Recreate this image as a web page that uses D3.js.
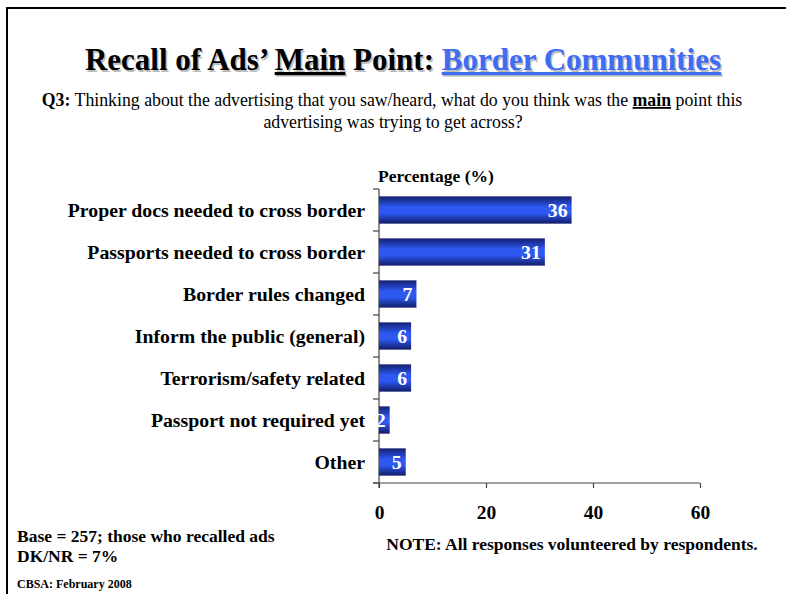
<!DOCTYPE html>
<html><head><meta charset="utf-8">
<script src="https://cdn.jsdelivr.net/npm/d3@7"></script>
<style>
body{margin:0;background:#fff;}
svg{display:block;font-family:"Liberation Serif","Times New Roman",serif;}
</style></head>
<body>
<svg id="chart" width="786" height="594"></svg>
<script>
const categories = [
  "Proper docs needed to cross border",
  "Passports needed to cross border",
  "Border rules changed",
  "Inform the public (general)",
  "Terrorism/safety related",
  "Passport not required yet",
  "Other"
];
const values = [36, 31, 7, 6, 6, 2, 5];
const xTicks = [0, 20, 40, 60];

const svg = d3.select("#chart");

// gradient for the bars: dark edges, bright centre
const defs = svg.append("defs");
const grad = defs.append("linearGradient").attr("id", "barGrad")
  .attr("x1", 0).attr("y1", 0).attr("x2", 0).attr("y2", 1);
grad.append("stop").attr("offset", "0%").attr("stop-color", "#14206e");
grad.append("stop").attr("offset", "40%").attr("stop-color", "#2d58f2");
grad.append("stop").attr("offset", "62%").attr("stop-color", "#2d58f2");
grad.append("stop").attr("offset", "100%").attr("stop-color", "#121c66");

// slide frame
svg.append("path").attr("d", "M7,594 V8 H786").attr("fill", "none")
  .attr("stroke", "#000").attr("stroke-width", 2);

// title with soft shadow
const title = (dx, dy, shadow) => {
  const t = svg.append("text").attr("x", 403 + dx).attr("y", 70 + dy)
    .attr("text-anchor", "middle").attr("font-size", 31).attr("font-weight", "bold");
  t.append("tspan").text("Recall of Ads’ ").attr("fill", shadow ? "#bbb" : "#000");
  t.append("tspan").text("Main").attr("fill", shadow ? "#bbb" : "#000")
    .attr("text-decoration", "underline");
  t.append("tspan").text(" Point: ").attr("fill", shadow ? "#bbb" : "#000");
  t.append("tspan").text("Border Communities").attr("fill", shadow ? "#bbb" : "#3e6cf5")
    .attr("text-decoration", "underline");
};
title(1.5, 1.5, true);
title(0, 0, false);

// question
const q1 = svg.append("text").attr("x", 392).attr("y", 106).attr("text-anchor", "middle")
  .attr("font-size", 17.8);
q1.append("tspan").text("Q3:").attr("font-weight", "bold");
q1.append("tspan").text(" Thinking about the advertising that you saw/heard, what do you think was the ");
q1.append("tspan").text("main").attr("font-weight", "bold").attr("text-decoration", "underline");
q1.append("tspan").text(" point this");
svg.append("text").attr("x", 393).attr("y", 128).attr("text-anchor", "middle")
  .attr("font-size", 17.8).text("advertising was trying to get across?");

// chart area
const x0 = 379, x1 = 700, yTop = 189, yBot = 483;
const x = d3.scaleLinear().domain([0, 60]).range([x0, x1]);
const y = d3.scaleBand().domain(categories).range([yTop, yBot]).paddingInner(0.35).paddingOuter(0.175);
const yTicks = d3.scaleBand().domain(categories).range([yTop, yBot]);

svg.append("text").attr("x", 378).attr("y", 182).attr("font-size", 17.5)
  .attr("font-weight", "bold").text("Percentage (%)");

// category axis: line plus boundary ticks
svg.append("line").attr("x1", x0).attr("x2", x0).attr("y1", yTop).attr("y2", yBot + 5)
  .attr("stroke", "#444").attr("stroke-width", 1.2);
const bounds = categories.map(c => yTicks(c)).concat([yBot]);
svg.selectAll("line.ytick").data(bounds).join("line").attr("class", "ytick")
  .attr("x1", x0 - 6).attr("x2", x0).attr("y1", d => d).attr("y2", d => d)
  .attr("stroke", "#444").attr("stroke-width", 1.2);

svg.selectAll("text.cat").data(categories).join("text").attr("class", "cat")
  .attr("x", 365).attr("y", d => y(d) + y.bandwidth() / 2 + 7)
  .attr("text-anchor", "end").attr("font-size", 19.8).attr("font-weight", "bold")
  .text(d => d);

// bars
svg.selectAll("rect.bar").data(values).join("rect").attr("class", "bar")
  .attr("x", x(0)).attr("y", (d, i) => y(categories[i]))
  .attr("width", d => x(d) - x(0)).attr("height", y.bandwidth())
  .attr("fill", "url(#barGrad)");

svg.selectAll("text.val").data(values).join("text").attr("class", "val")
  .attr("x", d => x(d) - 4).attr("y", (d, i) => y(categories[i]) + y.bandwidth() / 2 + 7)
  .attr("text-anchor", "end").attr("font-size", 19.8).attr("font-weight", "bold")
  .attr("fill", "#fff").text(d => d);

// value axis
const xAxis = d3.axisBottom(x).tickValues(xTicks).tickSize(5).tickSizeOuter(0).tickPadding(17);
const gx = svg.append("g").attr("transform", `translate(0,${yBot})`).call(xAxis);
gx.select(".domain").attr("d", `M${x0 - 6},0H${x1}`).attr("stroke", "#444").attr("stroke-width", 1.2);
gx.selectAll(".tick line").attr("stroke", "#444").attr("stroke-width", 1.2);
gx.selectAll(".tick text").attr("font-family", "Liberation Serif, serif")
  .attr("font-size", 19.5).attr("font-weight", "bold").attr("fill", "#000");

// footnotes
svg.append("text").attr("x", 17).attr("y", 542).attr("font-size", 17.5).attr("font-weight", "bold")
  .text("Base = 257; those who recalled ads");
svg.append("text").attr("x", 17).attr("y", 562).attr("font-size", 17.5).attr("font-weight", "bold")
  .text("DK/NR = 7%");
svg.append("text").attr("x", 17).attr("y", 588).attr("font-size", 12).attr("font-weight", "bold")
  .text("CBSA: February 2008");
svg.append("text").attr("x", 572).attr("y", 550).attr("text-anchor", "middle")
  .attr("font-size", 17.5).attr("font-weight", "bold")
  .text("NOTE: All responses volunteered by respondents.");
</script>
</body></html>
